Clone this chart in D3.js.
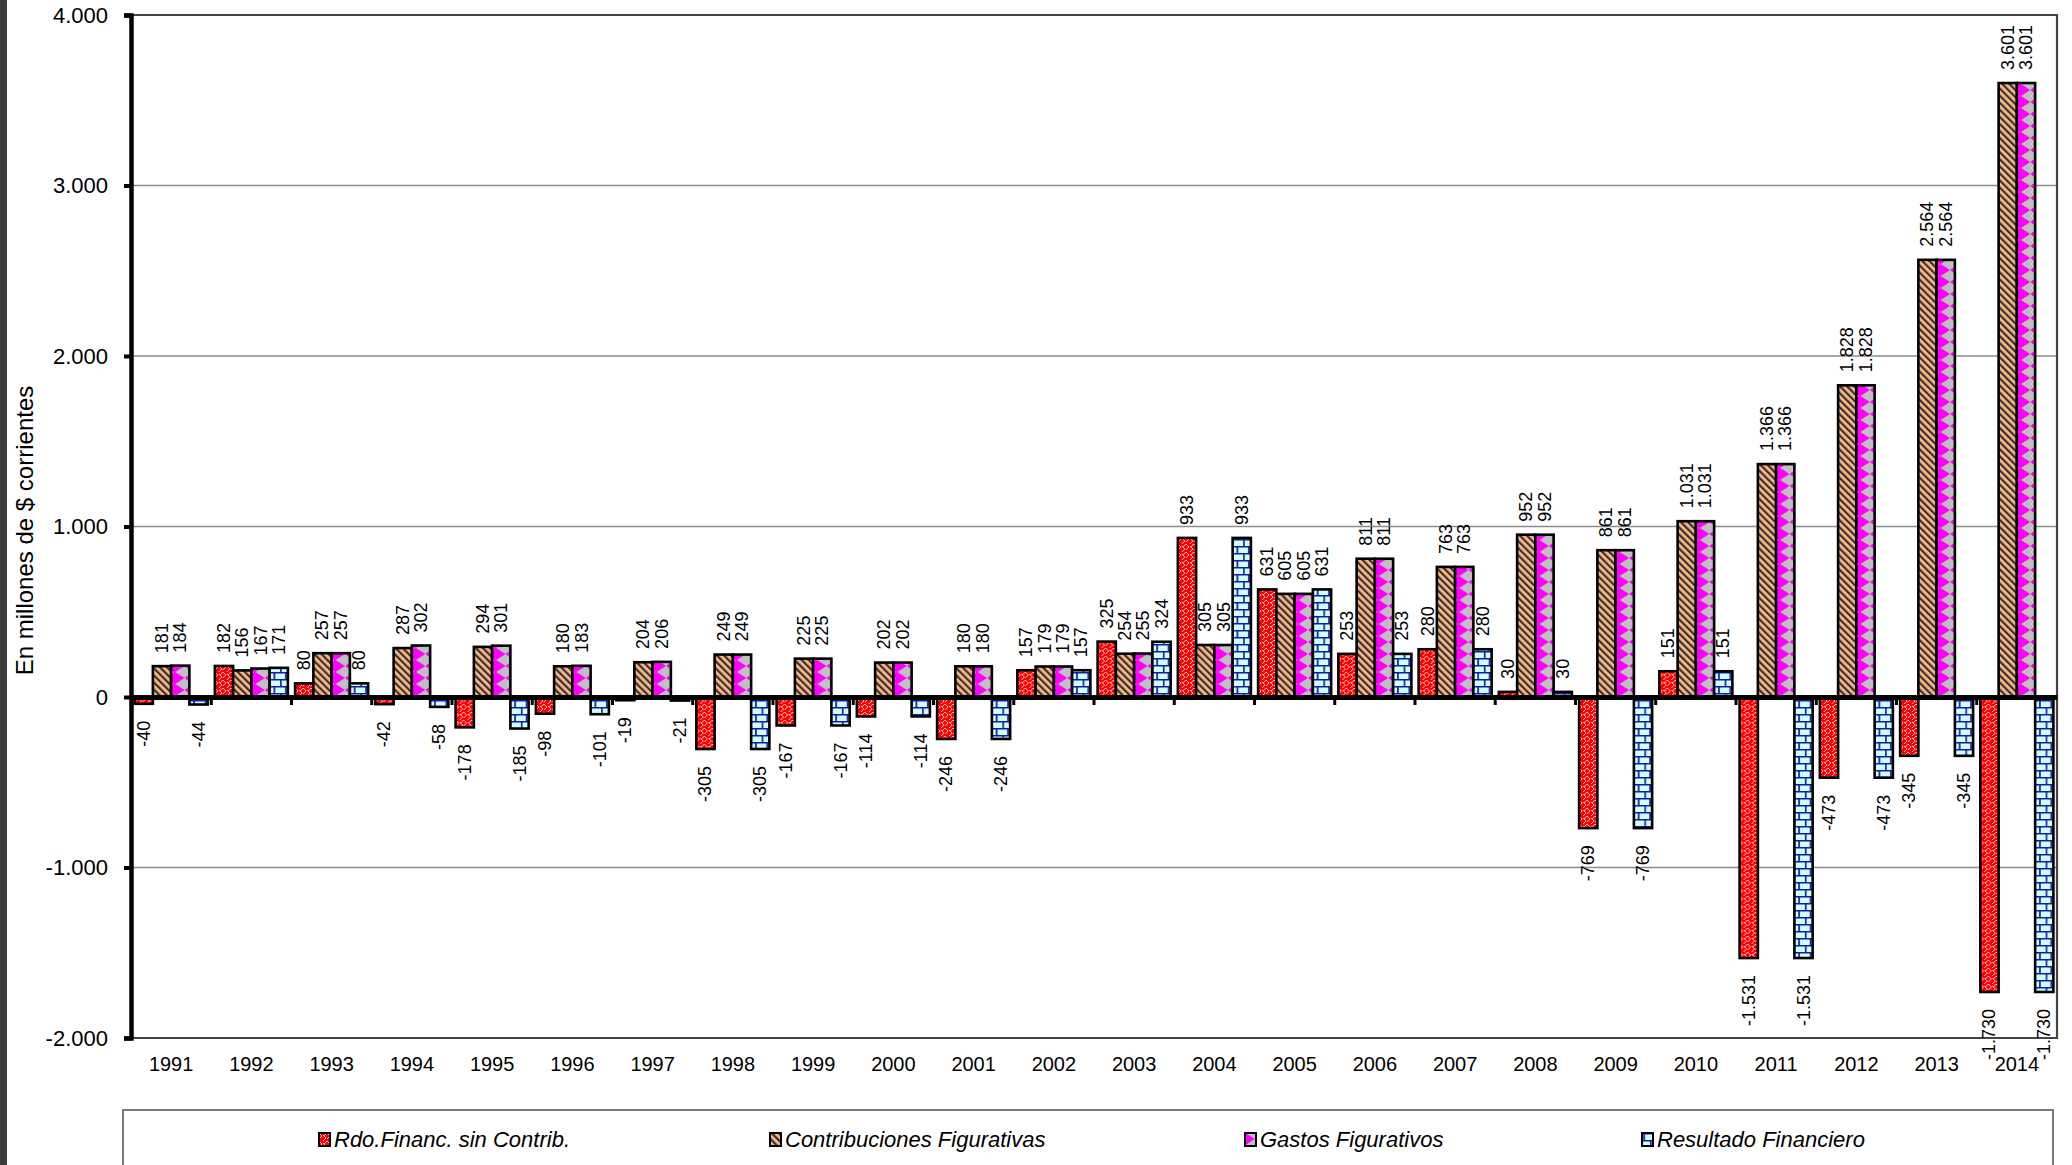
<!DOCTYPE html>
<html>
<head>
<meta charset="utf-8">
<script src="https://cdn.jsdelivr.net/npm/d3@7"></script>
<style>
  html, body { margin: 0; padding: 0; background: #fff; }
  svg { display: block; font-family: "Liberation Sans", Arial, sans-serif; }
</style>
</head>
<body>
<svg id="chart" width="2072" height="1165"></svg>
<script>
// ---- data ----
const years = ["1991","1992","1993","1994","1995","1996","1997","1998","1999","2000","2001","2002",
               "2003","2004","2005","2006","2007","2008","2009","2010","2011","2012","2013","2014"];
const rdoSinContrib = [-40,182,80,-42,-178,-98,-19,-305,-167,-114,-246,157,325,933,631,253,280,30,-769,151,-1531,-473,-345,-1730];
const contribFig    = [181,156,257,287,294,180,204,249,225,202,180,179,254,305,605,811,763,952,861,1031,1366,1828,2564,3601];
const gastosFig     = [184,167,257,302,301,183,206,249,225,202,180,179,255,305,605,811,763,952,861,1031,1366,1828,2564,3601];
const resultadoFin  = [-44,171,80,-58,-185,-101,-21,-305,-167,-114,-246,157,324,933,631,253,280,30,-769,151,-1531,-473,-345,-1730];
const seriesNames = ["Rdo.Financ. sin Contrib.","Contribuciones Figurativas","Gastos Figurativos","Resultado Financiero"];
const yTicks = [-2000,-1000,0,1000,2000,3000,4000];

const seriesData = [rdoSinContrib, contribFig, gastosFig, resultadoFin];
const patternIds = ["pRed","pBrown","pMagenta","pBlue"];

const locale = d3.formatLocale({decimal: ",", thousands: ".", grouping: [3], currency: ["$", ""], minus: "-"});
const fmt = locale.format(",d");

const svg = d3.select("#chart");
const W = 2072, H = 1165;
const plot = {left: 131, right: 2057, top: 15, bottom: 1038};

const x = d3.scaleBand().domain(years).range([plot.left, plot.right]).paddingInner(0.09).paddingOuter(0.045);
const xs = d3.scaleBand().domain(d3.range(4)).range([0, x.bandwidth()]);
const y = d3.scaleLinear().domain([-2000, 4000]).range([plot.bottom, plot.top]);

const step = x.step();
const bw = xs.bandwidth();

// ---- patterns ----
const defs = svg.append("defs");
// red zigzag / weave
const pr = defs.append("pattern").attr("id","pRed").attr("patternUnits","userSpaceOnUse")
  .attr("width",8).attr("height",8);
pr.append("rect").attr("width",8).attr("height",8).attr("fill","#ff0000");
pr.append("path").attr("d","M0,0 L3,3 L0,6 M4,2 L7,5 L4,8 M8,0 L5,3")
  .attr("fill","none").attr("stroke","#ffc4c4").attr("stroke-width",1);
// brown diagonal stripes
const pb = defs.append("pattern").attr("id","pBrown").attr("patternUnits","userSpaceOnUse")
  .attr("width",5).attr("height",5).attr("patternTransform","rotate(-45)");
pb.append("rect").attr("width",5).attr("height",5).attr("fill","#f7b985");
pb.append("rect").attr("width",2.2).attr("height",5).attr("fill","#3a3030");
// magenta diamonds aligned to bars
const mx0 = x(years[0]) + xs(2);
const pm = defs.append("pattern").attr("id","pMagenta").attr("patternUnits","userSpaceOnUse")
  .attr("x", mx0).attr("y", 0).attr("width", step / 4).attr("height", 12);
pm.append("rect").attr("width", step / 4).attr("height",12).attr("fill","#c0c0c0");
pm.append("polygon").attr("points", `${bw/2},-0.5 ${bw/2+bw/2+1},6 ${bw/2},12.5 ${bw/2-bw/2-1},6`).attr("fill","#ff00ff");
// blue bricks
const bx0 = x(years[0]) + xs(3);
const bwTile = step / 7;
const pbl = defs.append("pattern").attr("id","pBlue").attr("patternUnits","userSpaceOnUse")
  .attr("x", bx0 + 2).attr("y", 0).attr("width", bwTile).attr("height", 14);
pbl.append("rect").attr("width", bwTile).attr("height",14).attr("fill","#ccffff");
pbl.append("path").attr("d", `M0,0.75 H${bwTile} M0,7.75 H${bwTile} M${bwTile/2},0 V7 M0.75,7 V14`)
  .attr("stroke","#1a1a9a").attr("stroke-width",1.7).attr("fill","none");

// ---- left dark border strip ----
svg.append("rect").attr("x",0).attr("y",0).attr("width",7).attr("height",H).attr("fill","#3c3c3c");

// ---- gridlines ----
svg.append("g").selectAll("line").data(yTicks.filter(d => d !== 0 && d !== 4000 && d !== -2000)).join("line")
  .attr("x1", plot.left).attr("x2", plot.right).attr("y1", d => y(d)).attr("y2", d => y(d))
  .attr("stroke","#8c8c8c").attr("stroke-width",1.5);

// plot frame (top, right, bottom)
svg.append("path")
  .attr("d", `M${plot.left},${y(4000)} H${plot.right} V${y(-2000)} H${plot.left}`)
  .attr("fill","none").attr("stroke","#444").attr("stroke-width",2.2);

// ---- bars ----
const groups = svg.append("g").selectAll("g").data(years).join("g")
  .attr("transform", d => `translate(${x(d)},0)`);

groups.selectAll("rect").data((d, i) => seriesData.map((s, k) => ({k, v: s[i]}))).join("rect")
  .attr("x", d => xs(d.k))
  .attr("width", bw)
  .attr("y", d => y(Math.max(0, d.v)))
  .attr("height", d => Math.abs(y(d.v) - y(0)))
  .attr("fill", d => `url(#${patternIds[d.k]})`)
  .attr("stroke", "#000").attr("stroke-width", 2.6);

// ---- axes ----
const xAxis = d3.axisBottom(x).tickSize(0).tickFormat("");
svg.append("g").attr("transform", `translate(0,${y(0)})`).call(xAxis)
  .call(g => g.select(".domain").attr("stroke","#000").attr("stroke-width",5));
// category boundary tick marks
svg.append("g").selectAll("line").data(years.slice(1)).join("line")
  .attr("x1", d => x(d) - step * x.paddingInner() / 2).attr("x2", d => x(d) - step * x.paddingInner() / 2)
  .attr("y1", y(0)).attr("y2", y(0) + 8)
  .attr("stroke","#000").attr("stroke-width",3);

// x tick labels (low position)
svg.append("g").selectAll("text").data(years).join("text")
  .attr("x", d => x(d) + x.bandwidth() / 2).attr("y", 1071)
  .attr("text-anchor","middle").attr("font-size",20).attr("fill","#000")
  .text(d => d);

// y axis
const yAxis = d3.axisLeft(y).tickValues(yTicks).tickSize(7).tickPadding(16).tickFormat(d => fmt(d));
svg.append("g").attr("transform", `translate(${plot.left},0)`).call(yAxis)
  .call(g => g.select(".domain").attr("stroke","#000").attr("stroke-width",4.5))
  .call(g => g.selectAll(".tick line").attr("stroke","#000").attr("stroke-width",4))
  .call(g => g.selectAll(".tick text").attr("font-size",22).attr("fill","#000")
     .attr("font-family","'Liberation Sans', Arial, sans-serif"));

// y title
svg.append("text")
  .attr("transform", `translate(24,${(plot.top + plot.bottom) / 2 + 4}) rotate(-90)`)
  .attr("text-anchor","middle").attr("dominant-baseline","central")
  .attr("font-size",24).attr("fill","#000")
  .text("En millones de $ corrientes");

// ---- data labels ----
groups.selectAll("text.lbl").data((d, i) => seriesData.map((s, k) => ({k, v: s[i]}))).join("text")
  .attr("class","lbl")
  .attr("transform", d => {
    const cx = xs(d.k) + bw / 2;
    const yy = d.v >= 0 ? y(d.v) - 13 : y(d.v) + 17;
    return `translate(${cx},${yy}) rotate(-90)`;
  })
  .attr("text-anchor", d => d.v >= 0 ? "start" : "end")
  .attr("dominant-baseline","central")
  .attr("font-size",18).attr("fill","#000")
  .text(d => fmt(d.v));

// ---- legend ----
svg.append("rect").attr("x",123).attr("y",1110).attr("width",2053-123).attr("height",80)
  .attr("fill","#fff").attr("stroke","#7a7a7a").attr("stroke-width",2);
const legendX = [319, 770, 1245, 1642];
const lg = svg.append("g").selectAll("g").data(seriesNames).join("g")
  .attr("transform", (d, i) => `translate(${legendX[i]},1133)`);
lg.append("rect").attr("width",11).attr("height",13)
  .attr("fill", (d, i) => `url(#${patternIds[i]})`).attr("stroke","#000").attr("stroke-width",2);
lg.append("text").attr("x",15).attr("y",14).attr("font-size",22).attr("font-style","italic")
  .attr("fill","#000").text(d => d);
</script>
</body>
</html>
